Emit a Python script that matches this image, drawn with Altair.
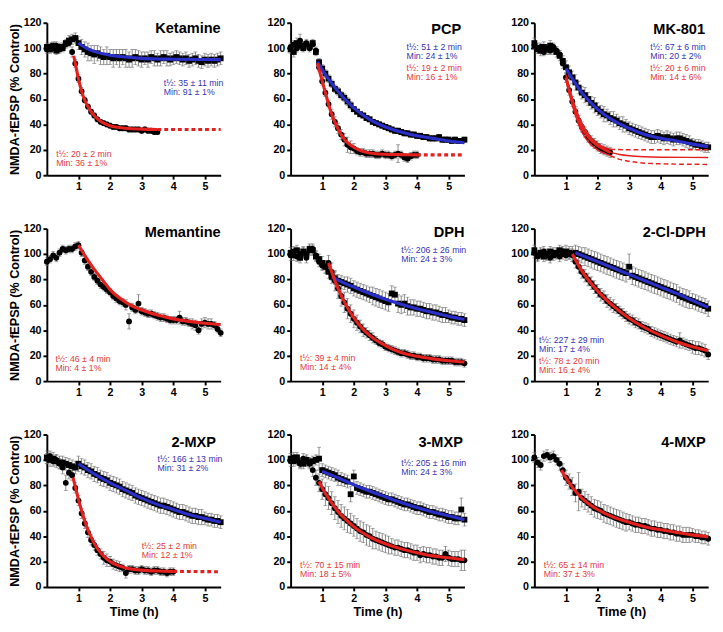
import altair as alt
import numpy as np
import pandas as pd

STEP = 0.1  # sampling interval of the recordings (h)

RED = "#e3211f"
BLUE = "#2a2fc8"
RED_TXT = "#e63a3a"
BLUE_TXT = "#3535b5"
GRAY = "#6a6a6a"
FONT = "Liberation Sans"

# ---------------- Ketamine ----------------
KET_SQ = [101, 99, 102, 98, 101, 100, 104, 106, 107, 108,
          104, 101, 99, 97, 96, 95, 96, 94, 93, 94,
          93, 92, 93, 92, 93, 92, 91, 92, 93, 92,
          91, 92, 91, 93, 92, 91, 92, 93, 92, 91,
          92, 93, 92, 91, 92, 90, 91, 92, 90, 89,
          91, 90, 91, 90, 91, 92]
KET_SQ_ERR = [3, 3, 3, 3, 3, 3, 3, 4, 4, 4,
              5, 6, 6, 7, 6, 7, 6, 7, 6, 7,
              6, 7, 6, 7, 6, 7, 6, 7, 6, 6,
              6, 5, 6, 5, 6, 5, 6, 5, 6, 5,
              5, 5, 5, 5, 5, 5, 5, 5, 5, 5,
              5, 5, 5, 5, 5, 5]
KET_CI = [99, 101, 100, 102, 99, 101, 103, 104, 97, 88,
          76, 66, 59, 54, 50, 47, 44, 42, 41, 40,
          39, 38, 38, 37, 37, 37, 36, 36, 36, 36,
          35, 36, 35, 35, 34, 34]
KET_CI_ERR = [3, 3, 3, 3, 3, 3, 3, 3, 4, 3,
              3, 3, 2, 2, 2, 2, 2, 2, 2, 2,
              2, 2, 2, 2, 2, 2, 2, 2, 2, 2,
              2, 2, 2, 2, 2, 2]
KET_RED_T = [0.85, 0.9, 1.0, 1.1, 1.2, 1.3, 1.4, 1.5, 1.7, 2.0, 2.5, 3.0, 3.5]
KET_RED_V = [94, 88, 76, 66, 59, 54, 50, 47, 42.5, 39, 37, 36.3, 36]
KET_RED_EXT_T = [3.5, 5.5]
KET_RED_EXT_V = [36, 36]
KET_BLUE_T = [1.0, 1.25, 1.5, 2.0, 2.5, 3.0, 3.5, 4.0, 5.0, 5.5]
KET_BLUE_V = [104, 100, 97.5, 94.5, 93, 92, 91.5, 91.3, 91.1, 91]

# ---------------- PCP ----------------
PCP_SQ = [99, 97, 104, 102, 100, 103, 101, 104, 97, 89,
          84, 80, 76, 72, 68, 66, 63, 61, 58, 55,
          52, 50, 48, 47, 45, 44, 42, 41, 40, 39,
          38, 37, 36, 35, 35, 34, 33, 33, 32, 32,
          31, 31, 30, 30, 29, 29, 29, 30, 28, 28,
          28, 27, 28, 27, 27, 28]
PCP_SQ_ERR = [3, 4, 4, 3, 3, 3, 3, 3, 3, 3,
              3, 3, 3, 3, 3, 3, 3, 3, 3, 3,
              2, 2, 2, 2, 2, 2, 2, 2, 2, 2,
              2, 2, 2, 2, 2, 2, 2, 2, 2, 2,
              2, 2, 2, 2, 2, 2, 2, 2, 2, 2,
              2, 2, 2, 2, 2, 2]
PCP_CI = [101, 103, 100, 106, 102, 104, 100, 103, 98, 85,
          74, 65, 56, 48, 42, 37, 32, 28, 24, 22,
          21, 19, 18, 18, 17, 17, 17, 16, 16, 17,
          16, 16, 15, 16, 17, 16, 14, 13, 15, 16,
          16]
PCP_CI_ERR = [3, 3, 3, 5, 3, 3, 3, 3, 3, 3,
              3, 3, 3, 4, 4, 4, 4, 5, 6, 5,
              4, 3, 3, 3, 3, 3, 3, 3, 3, 3,
              3, 3, 3, 3, 7, 3, 3, 3, 3, 3,
              3]
PCP_BLUE_T = [0.85, 1.0, 1.25, 1.5, 1.75, 2.0, 2.5, 3.0, 3.5, 4.0, 4.5, 5.0, 5.5]
PCP_BLUE_V = [89, 83, 74, 66, 59, 53, 44, 38, 34, 31, 29, 27, 25.5]
PCP_RED_T = [0.85, 1.0, 1.1, 1.2, 1.3, 1.4, 1.5, 1.6, 1.75, 2.0, 2.25, 2.5, 3.0, 3.5, 4.0]
PCP_RED_V = [88, 74, 65, 56, 48, 42, 36.5, 32, 27, 22, 19, 17.5, 16.5, 16.2, 16]
PCP_RED_EXT_T = [4.0, 5.5]
PCP_RED_EXT_V = [16, 16]

# ---------------- MK-801 ----------------
MK_SQ = [104, 100, 98, 101, 99, 102, 99, 97, 94, 90,
         85, 81, 77, 73, 69, 65, 63, 60, 57, 55,
         52, 50, 48, 47, 45, 44, 43, 41, 40, 39,
         37, 36, 35, 34, 33, 32, 31, 30, 30, 31,
         30, 29, 30, 29, 28, 29, 29, 28, 27, 26,
         25, 24, 24, 23, 22, 22]
MK_SQ_ERR = [4, 4, 4, 4, 4, 4, 4, 4, 4, 4,
             5, 5, 5, 6, 5, 5, 6, 5, 5, 6,
             5, 5, 6, 5, 5, 6, 5, 5, 6, 5,
             5, 5, 5, 5, 5, 5, 5, 5, 5, 5,
             5, 5, 5, 5, 5, 5, 5, 5, 5, 5,
             4, 4, 4, 4, 4, 4]
MK_CI = [102, 99, 101, 97, 100, 98, 101, 98, 95, 88,
         77, 67, 58, 50, 43, 38, 34, 30, 27, 25,
         23, 21, 20, 19, 18]
MK_CI_ERR = [3, 3, 3, 3, 3, 3, 3, 3, 3, 4,
             4, 4, 4, 4, 4, 4, 4, 4, 4, 4,
             4, 4, 4, 4, 4]
MK_BLUE_T = [1.0, 1.25, 1.5, 1.75, 2.0, 2.5, 3.0, 3.5, 4.0, 4.5, 5.0, 5.5]
MK_BLUE_V = [84, 74, 65, 58, 52, 43, 37, 32, 29, 27, 24.5, 22.5]
MK_RED_T = [1.0, 1.1, 1.2, 1.3, 1.4, 1.5, 1.75, 2.0, 2.25, 2.4]
MK_RED_V = [77, 67, 58, 50, 43.5, 38, 29, 23.5, 20, 18]
MK_RED_EXT_T = [2.4, 2.7, 3.0, 3.5, 4.0, 5.5]
MK_RED_EXT_V = [18, 16.3, 15.3, 14.5, 14.2, 14]
MK_UP_T = [1.0, 1.25, 1.5, 1.75, 2.0, 2.4]
MK_UP_V = [79, 57, 41, 31, 25, 20.5]
MK_UP_EXT_T = [2.4, 3.0, 4.0, 5.5]
MK_UP_EXT_V = [20.5, 20, 20, 20]
MK_LO_T = [1.0, 1.25, 1.5, 1.75, 2.0, 2.4]
MK_LO_V = [75, 51, 34, 25, 20, 15.5]
MK_LO_EXT_T = [2.4, 2.7, 3.0, 3.5, 4.0, 5.5]
MK_LO_EXT_V = [15.5, 12.5, 11, 9.5, 9, 8.5]

# ---------------- Memantine ----------------
MEM_CI = [94, 96, 99, 97, 101, 104, 103, 104, 104, 106,
          107, 101, 95, 90, 86, 82, 79, 76, 74, 72,
          70, 67, 65, 63, 62, 60, 47, 58, 56, 61,
          55, 54, 53, 53, 52, 51, 50, 50, 49, 48,
          48, 48, 50, 47, 47, 46, 45, 44, 40, 45,
          46, 45, 45, 44, 41, 38]
MEM_CI_ERR = [3, 3, 3, 3, 3, 3, 3, 3, 3, 3,
              3, 3, 3, 3, 3, 3, 3, 3, 3, 3,
              3, 3, 3, 3, 3, 4, 6, 3, 3, 7,
              3, 3, 3, 3, 3, 3, 3, 3, 3, 3,
              3, 3, 5, 3, 3, 3, 4, 4, 3, 4,
              4, 4, 4, 3, 3, 3]
MEM_RED_T = [1.0, 1.25, 1.5, 1.75, 2.0, 2.5, 3.0, 3.5, 4.0, 4.5, 5.0, 5.5]
MEM_RED_V = [107, 97, 88, 80, 72, 62, 56, 52, 49, 47, 45.5, 44.5]

# ---------------- DPH ----------------
DPH_SQ = [101, 99, 103, 97, 102, 100, 104, 103, 98, 96,
          93, 90, 86, 82, 81, 79, 78, 77, 76, 75,
          73, 72, 71, 70, 69, 68, 67, 66, 65, 64,
          63, 62, 69, 68, 61, 60, 61, 59, 58, 58,
          57, 57, 56, 55, 55, 54, 54, 53, 52, 52,
          51, 50, 50, 49, 49, 48]
DPH_SQ_ERR = [4, 4, 4, 4, 4, 4, 4, 4, 4, 4,
              5, 5, 5, 5, 5, 5, 5, 5, 6, 6,
              6, 6, 6, 6, 6, 6, 7, 7, 7, 7,
              7, 7, 6, 6, 7, 7, 7, 7, 6, 6,
              6, 6, 6, 6, 6, 6, 6, 6, 6, 6,
              5, 5, 5, 5, 5, 5]
DPH_CI = [99, 102, 98, 100, 101, 97, 103, 104, 99, 94,
          91, 90, 93, 86, 79, 73, 67, 62, 57, 53,
          49, 46, 43, 40, 38, 36, 34, 32, 30, 29,
          27, 26, 25, 24, 23, 22, 22, 21, 20, 20,
          19, 19, 18, 18, 18, 17, 17, 17, 16, 16,
          16, 16, 15, 15, 15, 14]
DPH_CI_ERR = [4, 4, 4, 4, 4, 4, 4, 4, 4, 4,
              4, 5, 6, 7, 8, 8, 8, 8, 8, 7,
              7, 6, 5, 5, 4, 4, 4, 3, 3, 3,
              3, 3, 3, 3, 3, 3, 3, 3, 3, 3,
              3, 3, 3, 3, 3, 3, 3, 3, 3, 3,
              3, 3, 3, 3, 3, 3]
DPH_BLUE_T = [1.3, 1.5, 2.0, 2.5, 3.0, 3.5, 4.0, 4.5, 5.0, 5.5]
DPH_BLUE_V = [82, 79.5, 74, 69, 64.5, 60.5, 57, 54, 51, 48.5]
DPH_RED_T = [1.2, 1.3, 1.4, 1.5, 1.75, 2.0, 2.25, 2.5, 3.0, 3.5, 4.0, 4.5, 5.0, 5.5]
DPH_RED_V = [93, 86, 79, 73, 60, 50, 42, 36, 28, 22.5, 19.5, 17.5, 16, 15]

# ---------------- 2-Cl-DPH ----------------
CL_SQ = [103, 99, 101, 98, 100, 102, 99, 101, 103, 100,
         102, 101, 100, 101, 100, 99, 98, 97, 96, 95,
         94, 93, 92, 91, 90, 89, 88, 87, 86, 85,
         90, 83, 82, 81, 80, 79, 78, 77, 76, 75,
         74, 73, 72, 71, 70, 69, 67, 66, 65, 64,
         63, 62, 61, 60, 59, 57]
CL_SQ_ERR = [4, 4, 4, 4, 4, 4, 4, 4, 4, 4,
             5, 5, 6, 6, 6, 6, 7, 7, 7, 7,
             7, 7, 7, 7, 7, 7, 7, 7, 7, 7,
             10, 7, 7, 7, 7, 7, 7, 7, 7, 7,
             7, 7, 7, 7, 7, 7, 7, 7, 7, 7,
             6, 6, 6, 6, 6, 6]
CL_CI = [101, 98, 100, 102, 99, 97, 101, 100, 98, 102,
         99, 100, 99, 94, 90, 86, 83, 80, 77, 74,
         71, 68, 66, 63, 61, 59, 57, 55, 53, 51,
         49, 48, 46, 45, 43, 42, 41, 39, 38, 37,
         36, 35, 34, 33, 32, 31, 32, 30, 29, 28,
         27, 26, 26, 25, 24, 21]
CL_CI_ERR = [4, 4, 4, 4, 4, 4, 4, 4, 4, 4,
             4, 4, 5, 5, 5, 5, 5, 5, 5, 5,
             5, 5, 5, 5, 5, 5, 4, 4, 4, 4,
             4, 4, 4, 4, 4, 4, 4, 4, 4, 4,
             4, 4, 4, 4, 4, 4, 6, 4, 4, 4,
             5, 5, 5, 5, 5, 4]
CL_BLUE_T = [1.3, 1.5, 2.0, 2.5, 3.0, 3.5, 4.0, 4.5, 5.0, 5.5]
CL_BLUE_V = [101, 99, 94, 89, 84, 79, 74, 69, 63.5, 58]
CL_RED_T = [1.2, 1.5, 2.0, 2.5, 3.0, 3.5, 4.0, 4.5, 5.0, 5.5]
CL_RED_V = [100, 87, 71, 59, 49.5, 42, 36, 31, 27, 24]

# ---------------- 2-MXP ----------------
MX2_SQ = [102, 100, 101, 99, 98, 98, 97, 96, 95, 94,
          97, 95, 94, 92, 91, 89, 88, 86, 85, 84,
          82, 81, 80, 79, 77, 76, 75, 74, 72, 71,
          70, 69, 68, 67, 66, 65, 64, 64, 63, 62,
          61, 60, 59, 59, 58, 57, 56, 56, 55, 55,
          54, 53, 53, 52, 52, 51]
MX2_SQ_ERR = [5, 5, 5, 5, 5, 5, 5, 5, 5, 5,
              6, 6, 6, 6, 6, 6, 6, 6, 6, 6,
              6, 6, 6, 6, 6, 6, 6, 6, 6, 6,
              6, 6, 6, 6, 6, 6, 6, 6, 6, 6,
              6, 6, 6, 6, 6, 6, 6, 6, 6, 6,
              5, 5, 5, 5, 5, 5]
MX2_CI = [101, 103, 99, 100, 97, 94, 82, 90, 88, 78,
          68, 58, 50, 43, 37, 33, 29, 26, 23, 21,
          20, 18, 17, 16, 15, 11, 14, 14, 13, 13,
          14, 13, 13, 12, 13, 13, 12, 12, 11, 12,
          12]
MX2_CI_ERR = [4, 4, 4, 4, 4, 5, 6, 5, 4, 4,
              4, 4, 4, 4, 4, 4, 4, 4, 5, 5,
              4, 4, 4, 4, 3, 4, 3, 3, 3, 3,
              3, 3, 3, 3, 3, 3, 3, 3, 3, 3,
              3]
MX2_BLUE_T = [1.0, 1.5, 2.0, 2.5, 3.0, 3.5, 4.0, 4.5, 5.0, 5.5]
MX2_BLUE_V = [97, 89, 82, 76, 70, 65, 61, 57, 54, 51]
MX2_RED_T = [0.83, 0.9, 1.0, 1.1, 1.2, 1.3, 1.4, 1.5, 1.75, 2.0, 2.5, 3.0, 3.5, 4.0]
MX2_RED_V = [86, 79, 69, 60, 52, 45, 39.5, 34.5, 25.5, 20, 15, 13.3, 12.6, 12.3]
MX2_RED_EXT_T = [4.0, 5.5]
MX2_RED_EXT_V = [12.3, 12]

# ---------------- 3-MXP ----------------
MX3_SQ = [101, 99, 102, 98, 97, 100, 98, 99, 100, 101,
          92, 91, 90, 89, 88, 86, 85, 84, 83, 73,
          87, 78, 77, 76, 75, 75, 74, 73, 72, 71,
          70, 69, 69, 68, 67, 66, 65, 65, 64, 63,
          62, 62, 61, 60, 59, 59, 58, 57, 57, 56,
          55, 55, 54, 54, 61, 53]
MX3_SQ_ERR = [4, 4, 4, 4, 4, 4, 4, 4, 4, 9,
              5, 5, 5, 5, 5, 6, 5, 5, 5, 6,
              5, 5, 5, 5, 5, 5, 5, 5, 5, 5,
              5, 5, 5, 5, 5, 5, 5, 5, 5, 5,
              5, 5, 5, 5, 5, 5, 5, 5, 5, 5,
              5, 5, 5, 5, 9, 5]
MX3_CI = [99, 102, 100, 97, 101, 99, 97, 92, 86, 82,
          77, 73, 70, 66, 62, 59, 56, 54, 52, 50,
          48, 46, 44, 43, 41, 40, 38, 37, 36, 35,
          34, 33, 32, 31, 31, 30, 29, 29, 28, 27,
          27, 25, 26, 25, 25, 24, 24, 23, 23, 26,
          23, 22, 22, 22, 21, 21]
MX3_CI_ERR = [4, 4, 4, 4, 4, 4, 4, 5, 6, 7,
              8, 9, 9, 9, 9, 9, 9, 9, 9, 8,
              8, 8, 8, 8, 8, 8, 8, 7, 7, 7,
              7, 7, 6, 6, 6, 6, 6, 6, 6, 6,
              6, 6, 6, 6, 6, 6, 6, 6, 6, 6,
              6, 6, 6, 6, 8, 8]
MX3_BLUE_T = [1.0, 1.5, 2.0, 2.5, 3.0, 3.5, 4.0, 4.5, 5.0, 5.5]
MX3_BLUE_V = [91, 86, 80.5, 75.5, 71, 66.5, 62.5, 59, 56, 53]
MX3_RED_T = [0.9, 1.0, 1.25, 1.5, 1.75, 2.0, 2.5, 3.0, 3.5, 4.0, 4.5, 5.0, 5.5]
MX3_RED_V = [83, 78, 68, 59.5, 53, 47.5, 39.5, 34, 30, 27, 24.5, 23, 21.5]

# ---------------- 4-MXP ----------------
MX4_CI = [102, 98, 96, 103, 104, 102, 103, 100, 97, 92,
          86, 83, 79, 74, 75, 70, 68, 66, 64, 62,
          61, 60, 58, 57, 56, 55, 54, 53, 52, 51,
          51, 50, 49, 49, 48, 48, 47, 46, 46, 45,
          45, 44, 44, 43, 43, 42, 42, 41, 41, 41,
          41, 40, 40, 39, 39, 38]
MX4_CI_ERR = [4, 4, 4, 4, 4, 4, 4, 4, 5, 5,
              6, 6, 7, 7, 15, 7, 7, 7, 7, 7,
              7, 7, 7, 7, 7, 7, 7, 7, 7, 7,
              6, 6, 6, 6, 6, 6, 6, 6, 6, 6,
              6, 6, 6, 6, 6, 6, 6, 6, 6, 6,
              5, 5, 5, 5, 5, 5]
MX4_RED_T = [0.85, 1.0, 1.25, 1.5, 1.75, 2.0, 2.5, 3.0, 3.5, 4.0, 4.5, 5.0, 5.5]
MX4_RED_V = [92, 86, 77, 70, 65, 61, 55, 51, 47.5, 45, 43, 41, 39.5]

# ---------------- panel texts ----------------
NAMES = ["Ketamine", "PCP", "MK-801", "Memantine", "DPH", "2-Cl-DPH",
         "2-MXP", "3-MXP", "4-MXP"]
STATS = {
    "Ketamine": [("t½: 35 ± 11 min", "Min: 91 ± 1%", "b"), ("t½: 20 ± 2 min", "Min: 36 ± 1%", "r")],
    "PCP": [("t½: 51 ± 2 min", "Min: 24 ± 1%", "b"), ("t½: 19 ± 2 min", "Min: 16 ± 1%", "r")],
    "MK-801": [("t½: 67 ± 6 min", "Min: 20 ± 2%", "b"), ("t½: 20 ± 6 min", "Min: 14 ± 6%", "r")],
    "Memantine": [("t½: 46 ± 4 min", "Min: 4 ± 1%", "r")],
    "DPH": [("t½: 206 ± 26 min", "Min: 24 ± 3%", "b"), ("t½: 39 ± 4 min", "Min: 14 ± 4%", "r")],
    "2-Cl-DPH": [("t½: 227 ± 29 min", "Min: 17 ± 4%", "b"), ("t½: 78 ± 20 min", "Min: 16 ± 4%", "r")],
    "2-MXP": [("t½: 166 ± 13 min", "Min: 31 ± 2%", "b"), ("t½: 25 ± 2 min", "Min: 12 ± 1%", "r")],
    "3-MXP": [("t½: 205 ± 16 min", "Min: 24 ± 3%", "b"), ("t½: 70 ± 15 min", "Min: 18 ± 5%", "r")],
    "4-MXP": [("t½: 65 ± 14 min", "Min: 37 ± 3%", "r")],
}
# annotation anchor positions (data coords): first line of each stats block
STAT_POS = {
    "Ketamine": [(3.7, 72.5), (0.3, 17)],
    "PCP": [(3.67, 101), (3.67, 84.5)],
    "MK-801": [(3.67, 101), (3.67, 84.5)],
    "Memantine": [(0.27, 17.5)],
    "DPH": [(3.5, 103.5), (0.3, 18)],
    "2-Cl-DPH": [(0.15, 32.5), (0.15, 16)],
    "2-MXP": [(3.5, 100.5), (3.0, 32)],
    "3-MXP": [(3.5, 97.5), (0.3, 17.5)],
    "4-MXP": [(0.3, 17.5)],
}
LINE_GAP = 7.2  # vertical offset of the second stats line (data units)
TITLE_POS = {
    "Ketamine": (5.5, 115.5), "PCP": (5.4, 115), "MK-801": (5.4, 115),
    "Memantine": (5.5, 117), "DPH": (5.5, 117), "2-Cl-DPH": (5.42, 117),
    "2-MXP": (5.35, 114), "3-MXP": (5.45, 114), "4-MXP": (5.42, 114),
}

SERIES = {
    "Ketamine": [(KET_SQ, KET_SQ_ERR, "square"), (KET_CI, KET_CI_ERR, "circle")],
    "PCP": [(PCP_SQ, PCP_SQ_ERR, "square"), (PCP_CI, PCP_CI_ERR, "circle")],
    "MK-801": [(MK_SQ, MK_SQ_ERR, "square"), (MK_CI, MK_CI_ERR, "circle")],
    "Memantine": [(MEM_CI, MEM_CI_ERR, "circle")],
    "DPH": [(DPH_SQ, DPH_SQ_ERR, "square"), (DPH_CI, DPH_CI_ERR, "circle")],
    "2-Cl-DPH": [(CL_SQ, CL_SQ_ERR, "square"), (CL_CI, CL_CI_ERR, "circle")],
    "2-MXP": [(MX2_SQ, MX2_SQ_ERR, "square"), (MX2_CI, MX2_CI_ERR, "circle")],
    "3-MXP": [(MX3_SQ, MX3_SQ_ERR, "square"), (MX3_CI, MX3_CI_ERR, "circle")],
    "4-MXP": [(MX4_CI, MX4_CI_ERR, "circle")],
}
FITS = {
    "Ketamine": [(KET_BLUE_T, KET_BLUE_V, BLUE, "thick"), (KET_RED_T, KET_RED_V, RED, "thick"),
                 (KET_RED_EXT_T, KET_RED_EXT_V, RED, "dash")],
    "PCP": [(PCP_BLUE_T, PCP_BLUE_V, BLUE, "thick"), (PCP_RED_T, PCP_RED_V, RED, "thick"),
            (PCP_RED_EXT_T, PCP_RED_EXT_V, RED, "dash")],
    "MK-801": [(MK_BLUE_T, MK_BLUE_V, BLUE, "thick"), (MK_RED_T, MK_RED_V, RED, "thick"),
               (MK_RED_EXT_T, MK_RED_EXT_V, RED, "thin"),
               (MK_UP_T, MK_UP_V, RED, "thin"), (MK_UP_EXT_T, MK_UP_EXT_V, RED, "thindash"),
               (MK_LO_T, MK_LO_V, RED, "thin"), (MK_LO_EXT_T, MK_LO_EXT_V, RED, "thindash")],
    "Memantine": [(MEM_RED_T, MEM_RED_V, RED, "thick")],
    "DPH": [(DPH_BLUE_T, DPH_BLUE_V, BLUE, "thick"), (DPH_RED_T, DPH_RED_V, RED, "thick")],
    "2-Cl-DPH": [(CL_BLUE_T, CL_BLUE_V, BLUE, "thick"), (CL_RED_T, CL_RED_V, RED, "thick")],
    "2-MXP": [(MX2_BLUE_T, MX2_BLUE_V, BLUE, "thick"), (MX2_RED_T, MX2_RED_V, RED, "thick"),
              (MX2_RED_EXT_T, MX2_RED_EXT_V, RED, "dash")],
    "3-MXP": [(MX3_BLUE_T, MX3_BLUE_V, BLUE, "thick"), (MX3_RED_T, MX3_RED_V, RED, "thick")],
    "4-MXP": [(MX4_RED_T, MX4_RED_V, RED, "thick")],
}

W, H = 179, 157
LINE_STYLE = {
    "thick": dict(strokeWidth=3.2),
    "dash": dict(strokeWidth=3.2, strokeDash=[4, 3]),
    "thin": dict(strokeWidth=1.5),
    "thindash": dict(strokeWidth=1.5, strokeDash=[5, 3]),
}


def panel(name, col, row):
    ytitle = "NMDA-fEPSP (% Control)" if col == 0 else None
    xtitle = "Time (h)" if row == 2 else None
    xs = alt.Scale(domain=[0, 5.5], nice=False, zero=False)
    ys = alt.Scale(domain=[0, 120], nice=False)
    xa = alt.Axis(values=[1, 2, 3, 4, 5])
    ya = alt.Axis(values=[0, 20, 40, 60, 80, 100, 120])

    def X(f="t"):
        return alt.X(f + ":Q", scale=xs, axis=xa, title=xtitle)

    def Y(f="v"):
        return alt.Y(f + ":Q", scale=ys, axis=ya, title=ytitle)

    frames = []
    for vals, errs, shape in SERIES[name]:
        v = np.array(vals, dtype=float)
        e = np.array(errs, dtype=float)
        t = np.round(np.arange(len(v)) * STEP, 2)
        frames.append(pd.DataFrame({"t": t, "v": v, "lo": v - e, "hi": v + e, "shape": shape}))
    pts = pd.concat(frames, ignore_index=True)

    layers = [
        alt.Chart(pts).mark_rule(color=GRAY, strokeWidth=0.8).encode(x=X(), y=Y("lo"), y2="hi:Q"),
        alt.Chart(pts).mark_tick(orient="horizontal", size=4, thickness=0.8, color=GRAY).encode(x=X(), y=Y("hi")),
        alt.Chart(pts).mark_tick(orient="horizontal", size=4, thickness=0.8, color=GRAY).encode(x=X(), y=Y("lo")),
        alt.Chart(pts).mark_point(filled=True, size=36, opacity=1, color="black").encode(
            x=X(), y=Y(),
            shape=alt.Shape("shape:N", scale=alt.Scale(domain=["square", "circle"], range=["square", "circle"]),
                            legend=None)),
    ]

    rows = []
    for i, (ft, fv, color, style) in enumerate(FITS[name]):
        for a, b in zip(ft, fv):
            rows.append({"t": a, "v": b, "cid": i, "color": color, "style": style})
    fits = pd.DataFrame(rows)
    for style, props in LINE_STYLE.items():
        sub = fits[fits["style"] == style]
        if len(sub) == 0:
            continue
        layers.append(alt.Chart(sub).mark_line(interpolate="monotone", **props).encode(
            x=X(), y=Y(), detail="cid:N", color=alt.Color("color:N", scale=None)))

    trows = []
    for (l1, l2, c), (px, py) in zip(STATS[name], STAT_POS[name]):
        colr = BLUE_TXT if c == "b" else RED_TXT
        trows.append({"t": px, "v": py, "text": l1, "color": colr})
        trows.append({"t": px, "v": py - LINE_GAP, "text": l2, "color": colr})
    tdf = pd.DataFrame(trows)
    layers.append(alt.Chart(tdf).mark_text(align="left", baseline="middle", fontSize=9, font=FONT).encode(
        x=X(), y=Y(), text="text:N", color=alt.Color("color:N", scale=None)))

    tx, ty = TITLE_POS[name]
    hdf = pd.DataFrame({"t": [tx], "v": [ty], "text": [name]})
    layers.append(alt.Chart(hdf).mark_text(align="right", baseline="middle", fontSize=15,
                                           fontWeight="bold", font=FONT, color="black").encode(
        x=X(), y=Y(), text="text:N"))

    return alt.layer(*layers).properties(width=W, height=H)


grid_rows = []
for r in range(3):
    grid_rows.append(alt.hconcat(*[panel(NAMES[r * 3 + c], c, r) for c in range(3)], spacing=40))

chart = alt.vconcat(*grid_rows, spacing=32).properties(padding=0).configure_view(
    strokeWidth=0
).configure_axis(
    grid=False, domainColor="black", domainWidth=2, tickColor="black", tickWidth=2, tickSize=4,
    labelFont=FONT, labelFontSize=11, labelFontWeight="bold", labelColor="black", labelPadding=2,
    titleFont=FONT, titleFontSize=13, titleFontWeight="bold", titleColor="black", titlePadding=2,
).configure_text(font=FONT)

chart.save("out.html", embed_options={"renderer": "svg", "actions": False})
